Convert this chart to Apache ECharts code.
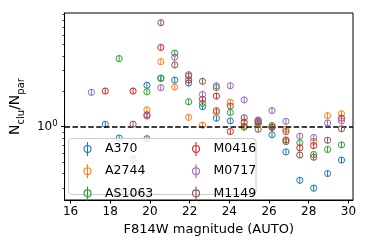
<!DOCTYPE html>
<html>
<head>
<meta charset="utf-8">
<script src="https://cdn.jsdelivr.net/npm/echarts@6/dist/echarts.min.js"></script>
<style>html,body{margin:0;padding:0;background:#fff;}#c{width:374px;height:249px;}</style>
</head>
<body>
<div id="c"></div>
<script>
// ---- data (magnitude bin centre, N_clu/N_par) ----
const seriesNames = ['A370', 'A2744', 'AS1063', 'M0416', 'M0717', 'M1149'];
const seriesColors = ['#1f77b4', '#ff7f0e', '#2ca02c', '#d62728', '#9467bd', '#8c564b'];

const A370 = [[17.75,1.047],[18.45,0.80],[19.85,2.25],[20.55,2.58],[21.25,2.49],[21.95,2.35],[22.65,1.48],[23.35,1.18],[24.05,1.12],[25.45,1.12],[26.15,0.855],[26.85,0.61],[27.55,0.35],[28.25,0.30],[28.95,0.40],[29.65,0.52]];
const A2744 = [[19.85,1.39],[20.55,3.57],[21.25,2.17],[21.95,1.20],[22.65,1.03],[23.35,1.32],[24.05,1.61],[24.75,1.01],[25.45,1.05],[26.85,0.95],[28.25,0.75],[28.95,1.24],[29.65,1.29]];
const AS1063 = [[18.45,3.79],[19.15,0.528],[19.85,1.98],[20.55,2.58],[21.25,4.22],[21.95,1.63],[22.65,1.58],[23.35,2.15],[24.05,1.32],[24.75,0.99],[25.45,1.07],[26.15,1.02],[26.85,0.746],[27.55,0.73],[28.25,0.58],[28.95,0.64],[29.65,0.70]];
const M0416 = [[17.75,2.01],[19.15,2.01],[19.85,1.26],[20.55,4.72],[21.95,2.49],[22.65,1.71],[23.35,1.82],[24.05,0.91],[24.75,1.09],[25.45,1.10],[26.15,0.99],[26.85,0.77],[27.55,0.66],[28.25,0.69],[29.65,1.18]];
const M0717 = [[17.05,1.96],[18.45,0.277],[19.15,0.277],[19.85,1.23],[20.55,2.15],[21.25,3.89],[21.95,2.77],[22.65,1.88],[23.35,2.23],[24.05,2.23],[24.75,1.69],[25.45,1.14],[26.15,1.37],[26.85,1.11],[27.55,0.83],[28.25,0.81],[28.95,1.075],[29.65,1.12]];
const M1149 = [[19.15,1.05],[19.85,0.79],[20.55,7.66],[21.25,3.35],[21.95,2.70],[22.65,2.43],[23.35,1.37],[24.05,1.50],[24.75,1.19],[25.45,0.95],[26.15,0.99],[26.85,0.907],[27.55,0.574],[28.25,0.55],[28.95,0.766],[29.65,0.96]];
const seriesData = [A370, A2744, AS1063, M0416, M0717, M1149];

const xTicks = [16, 18, 20, 22, 24, 26, 28, 30];
const yMajorTicks = [1];
const yMinorTicks = [0.3, 0.4, 0.5, 0.6, 0.7, 0.8, 0.9, 2, 3, 4, 5, 6, 7, 8, 9];
const refLevel = 1;

// ---- chart ----
const FONT = 'DejaVu Sans';
const chart = echarts.init(document.getElementById('c'), null, {renderer: 'canvas'});
const iconPath = 'path://M3.5,0L3.5,14M7,7A3.5,3.5,0,1,1,0,7A3.5,3.5,0,1,1,7,7Z';

function makeSeries(i) {
  const c = seriesColors[i];
  const s = {
    name: seriesNames[i],
    type: 'custom',
    xAxisIndex: 0,
    yAxisIndex: 0,
    clip: true,
    z: 2 + i,
    itemStyle: {color: c},
    data: seriesData[i],
    renderItem: function (params, api) {
      const p = api.coord([api.value(0), api.value(1)]);
      return {
        type: 'group',
        children: [
          {type: 'circle', shape: {cx: p[0], cy: p[1], r: 3.1}, style: {fill: 'none', stroke: c, lineWidth: 1}},
          {type: 'line', shape: {x1: p[0], y1: p[1] - 3, x2: p[0], y2: p[1] + 3}, style: {stroke: c, lineWidth: 1}}
        ]
      };
    }
  };
  if (i === 0) {
    s.markLine = {
      silent: true,
      symbol: ['none', 'none'],
      label: {show: false},
      lineStyle: {color: '#000', width: 1.5, type: [5.5, 2.4]},
      data: [{yAxis: refLevel}]
    };
  }
  return s;
}

function legendBlock(idx, left) {
  return {
    orient: 'vertical',
    left: left,
    top: 139.5,
    padding: 0,
    itemWidth: 7,
    itemHeight: 14,
    itemGap: 3.2,
    z: 60,
    selectedMode: false,
    textStyle: {fontFamily: FONT, fontSize: 12.5, color: '#000', padding: [0, 0, 0, 9], lineHeight: 14},
    data: idx.map(i => ({
      name: seriesNames[i],
      icon: iconPath,
      itemStyle: {color: 'none', borderColor: seriesColors[i], borderWidth: 1.1}
    }))
  };
}

const option = {
  animation: false,
  backgroundColor: '#fff',
  grid: {left: 62, right: 21, top: 13, bottom: 49, show: true, borderColor: '#000', borderWidth: 1, backgroundColor: 'transparent'},
  xAxis: {
    type: 'value',
    min: 15.7,
    max: 30.23,
    name: 'F814W magnitude (AUTO)',
    nameLocation: 'middle',
    nameGap: 22,
    nameTextStyle: {fontFamily: FONT, fontSize: 13, color: '#000'},
    axisLine: {show: true, lineStyle: {color: '#000', width: 1}},
    axisTick: {show: true, length: 3.5, lineStyle: {color: '#000'}, customValues: xTicks},
    axisLabel: {fontFamily: FONT, fontSize: 12, color: '#000', margin: 6, customValues: xTicks},
    splitLine: {show: false}
  },
  yAxis: [
    {
      type: 'log',
      logBase: 10,
      min: 0.238,
      max: 9.26,
      position: 'left',
      name: '{n|N}{s|clu}{n|/N}{s|par}',
      nameLocation: 'middle',
      nameRotate: 90,
      nameGap: 29,
      nameTextStyle: {
        fontFamily: FONT, color: '#000',
        rich: {
          n: {fontFamily: FONT, fontSize: 14, color: '#000', lineHeight: 22},
          s: {fontFamily: FONT, fontSize: 10, color: '#000', verticalAlign: 'bottom', lineHeight: 12}
        }
      },
      axisLine: {show: true, lineStyle: {color: '#000', width: 1}},
      axisTick: {show: true, length: 3.5, lineStyle: {color: '#000'}, customValues: yMajorTicks},
      axisLabel: {
        margin: 7,
        customValues: yMajorTicks,
        formatter: function (v) { return '{b|10}{p|0}'; },
        rich: {
          b: {fontFamily: FONT, fontSize: 12, color: '#000', lineHeight: 14},
          p: {fontFamily: FONT, fontSize: 8.5, color: '#000', verticalAlign: 'top', lineHeight: 10}
        }
      },
      splitLine: {show: false}
    },
    {
      type: 'log',
      logBase: 10,
      min: 0.238,
      max: 9.26,
      position: 'left',
      offset: 0,
      axisLine: {show: false},
      axisTick: {show: true, length: 2, lineStyle: {color: '#000', width: 0.8}, customValues: yMinorTicks},
      axisLabel: {show: false},
      splitLine: {show: false}
    }
  ],
  legend: [legendBlock([0, 1, 2], 81.5), legendBlock([3, 4, 5], 190)],
  graphic: [{
    type: 'rect',
    z: 50,
    shape: {x: 68.5, y: 138.5, width: 187.5, height: 56, r: 3},
    style: {fill: 'rgba(255,255,255,0.8)', stroke: '#cccccc', lineWidth: 1}
  }],
  series: seriesNames.map((n, i) => makeSeries(i))
};
chart.setOption(option);
</script>
</body>
</html>
